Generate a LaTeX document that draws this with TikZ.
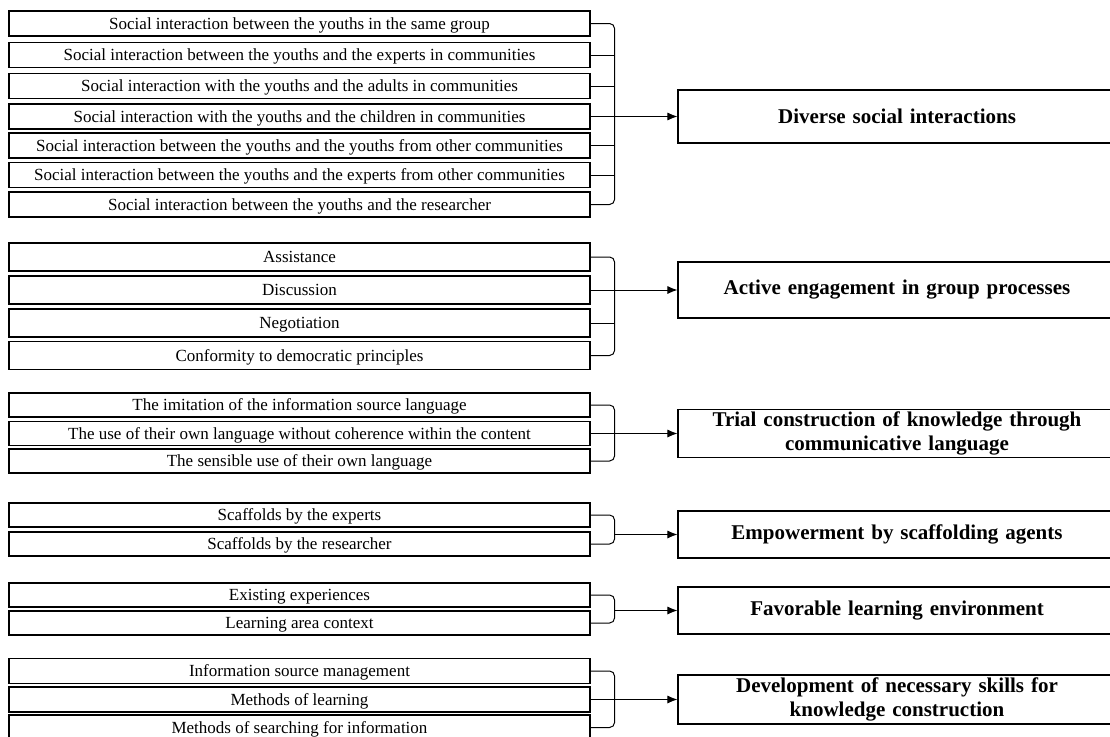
\documentclass[tikz,border=0pt]{standalone}
\usepackage{fontspec}
\setmainfont{Liberation Serif}
\usetikzlibrary{arrows.meta}
\newcommand{\itemfont}{\fontsize{17}{19}\selectfont}
\newcommand{\themefont}{\fontsize{21}{23.5}\selectfont\bfseries\spaceskip=0.33em\relax}

\begin{document}
\begin{tikzpicture}[x=1pt,y=-1pt,
  item/.style={draw,line width=1.1pt,minimum width=581pt,minimum height=25pt,inner sep=0pt,
    text height=14pt,text depth=2.8pt,font=\itemfont},
  theme/.style={draw,line width=1.1pt,minimum width=438pt,inner sep=0pt,align=center,font=\themefont},
  link/.style={line width=1pt},
  lead/.style={link,-{Latex[length=10pt,width=8pt]}}]
  \useasboundingbox (0,0) rectangle (1110,736);

  % social interactions
  \node[item] (soc1) at (299.5,23.5){Social interaction between the youths in the same group};
  \node[item] (soc2) at (299.5,55){Social interaction between the youths and the experts in communities};
  \node[item] (soc3) at (299.5,86){Social interaction with the youths and the adults in communities};
  \node[item] (soc4) at (299.5,116.5){Social interaction with the youths and the children in communities};
  \node[item] (soc5) at (299.5,145.5){Social interaction between the youths and the youths from other communities};
  \node[item] (soc6) at (299.5,175){Social interaction between the youths and the experts from other communities};
  \node[item] (soc7) at (299.5,204.5){Social interaction between the youths and the researcher};
  \node[theme,minimum height=53pt] (diverse) at (897,116.5){Diverse social interactions};
  \draw[link,rounded corners=5pt] (soc1.east) -- ++(24,0) |- (soc7.east);
  \draw[link] (soc2.east) -- ++(24,0); \draw[link] (soc3.east) -- ++(24,0);
  \draw[link] (soc5.east) -- ++(24,0); \draw[link] (soc6.east) -- ++(24,0);
  \draw[lead] (soc4.east) -- (diverse.west);

  % group processes
  \node[item,minimum height=28pt] (act1) at (299.5,257){Assistance};
  \node[item,minimum height=28pt] (act2) at (299.5,290){Discussion};
  \node[item,minimum height=28pt] (act3) at (299.5,323){Negotiation};
  \node[item,minimum height=28pt] (act4) at (299.5,355.5){Conformity to democratic principles};
  \node[theme,minimum height=56pt] (engage) at (897,290){Active engagement in group processes};
  \draw[link,rounded corners=5pt] (act1.east) -- ++(24,0) |- (act4.east);
  \draw[link] (act3.east) -- ++(24,0);
  \draw[lead] (act2.east) -- (engage.west);

  % communicative language
  \node[item,minimum height=24pt] (lan1) at (299.5,405){The imitation of the information source language};
  \node[item,minimum height=24pt] (lan2) at (299.5,433.5){The use of their own language without coherence within the content};
  \node[item,minimum height=24pt] (lan3) at (299.5,461){The sensible use of their own language};
  \node[theme,minimum height=48pt] (trial) at (897,433.5){Trial construction of knowledge through\\communicative language};
  \draw[link,rounded corners=5pt] (lan1.east) -- ++(24,0) |- (lan3.east);
  \draw[lead] (lan2.east) -- (trial.west);

  % scaffolding agents
  \node[item,minimum height=24pt] (sca1) at (299.5,515){Scaffolds by the experts};
  \node[item,minimum height=24pt] (sca2) at (299.5,544){Scaffolds by the researcher};
  \node[theme,minimum height=47pt] (empower) at (897,534.5){Empowerment by scaffolding agents};
  \draw[link,rounded corners=5pt] (sca1.east) -- ++(24,0) |- (sca2.east);
  \coordinate (scaB) at (614,534.5);
  \draw[lead] (scaB) -- (empower.west);

  % learning environment
  \node[item,minimum height=24pt] (env1) at (299.5,595){Existing experiences};
  \node[item,minimum height=24pt] (env2) at (299.5,623){Learning area context};
  \node[theme,minimum height=47pt] (favor) at (897,610.5){Favorable learning environment};
  \draw[link,rounded corners=5pt] (env1.east) -- ++(24,0) |- (env2.east);
  \coordinate (envB) at (614,610.5);
  \draw[lead] (envB) -- (favor.west);

  % necessary skills
  \node[item] (ski1) at (299.5,671){Information source management};
  \node[item] (ski2) at (299.5,699.5){Methods of learning};
  \node[item] (ski3) at (299.5,727.5){Methods of searching for information};
  \node[theme,minimum height=49pt] (skills) at (897,699.5){Development of necessary skills for\\knowledge construction};
  \draw[link,rounded corners=5pt] (ski1.east) -- ++(24,0) |- (ski3.east);
  \draw[lead] (ski2.east) -- (skills.west);
\end{tikzpicture}
\end{document}
